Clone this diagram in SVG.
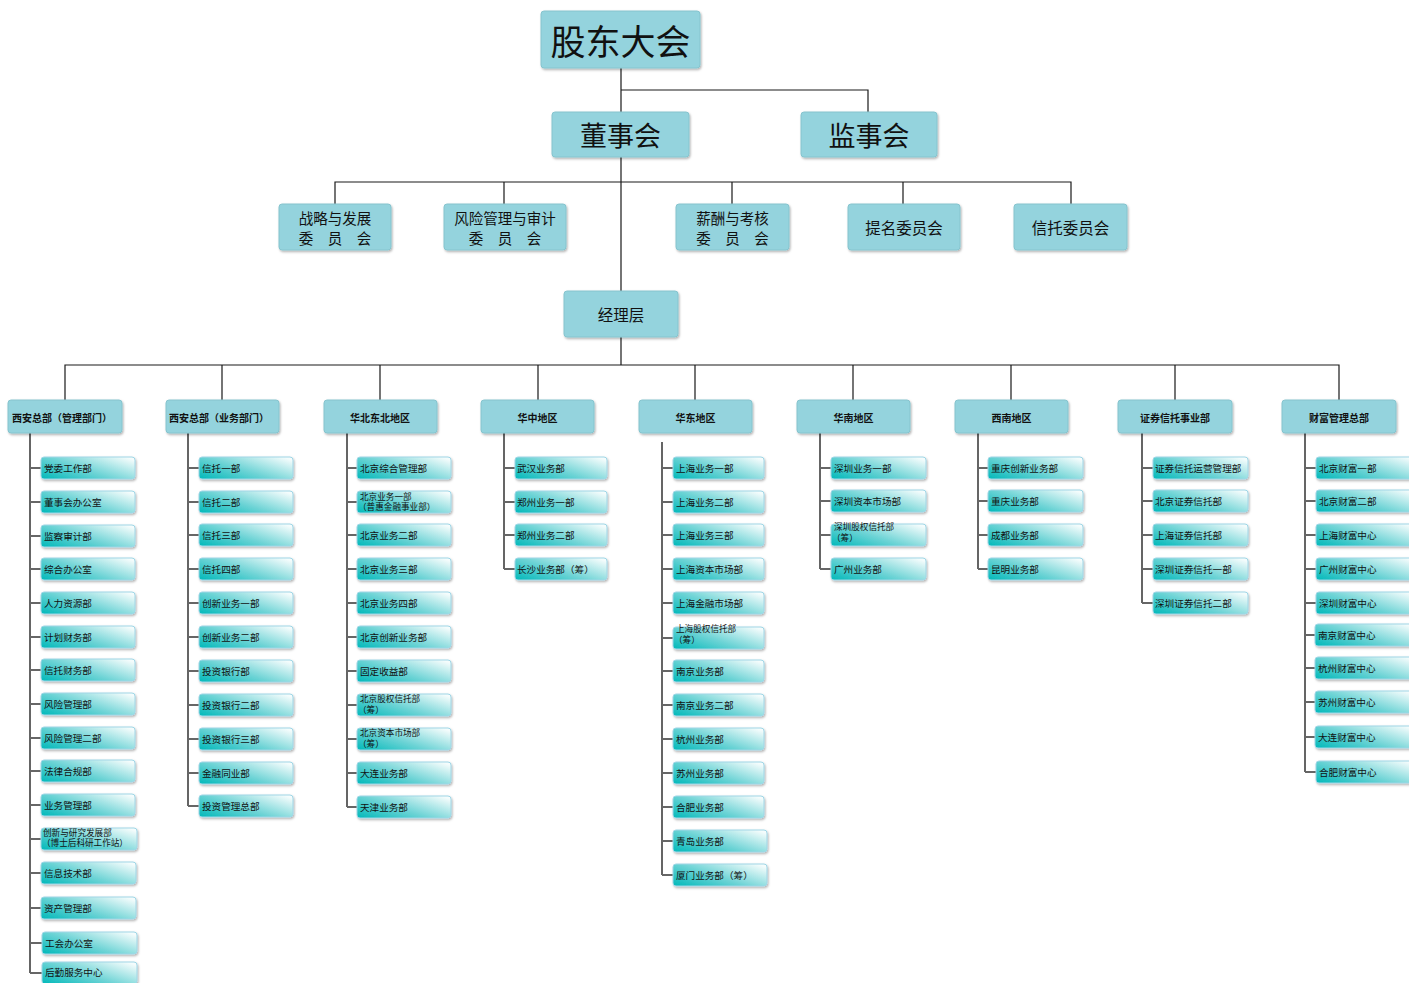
<svg xmlns="http://www.w3.org/2000/svg" width="1409" height="983" viewBox="0 0 1409 983">
<style>
text{font-family:"Noto Sans CJK SC","Noto Sans",sans-serif;fill:#111}
.box{fill:#94d3dd;stroke:#86c4ce;stroke-width:1}
.leaf{fill:url(#lg);stroke:#9fd6e6;stroke-width:1}
.lt{font-size:9.6px;dominant-baseline:central}
.lt2{font-size:8.6px}
.l3{font-size:10px;font-weight:bold;text-anchor:middle;dominant-baseline:central}
.cm{font-size:15.5px;text-anchor:middle;dominant-baseline:central}
.cm2{font-size:14.5px;text-anchor:middle;dominant-baseline:central}
.main{stroke:#1a1a1a;stroke-width:1.2;fill:none}
.spine{stroke:#333;stroke-width:1.5;fill:none}
.tick{stroke:#666;stroke-width:2;fill:none}
</style>
<defs>
<linearGradient id="lg" x1="0" y1="0.85" x2="1" y2="0.15">
<stop offset="0" stop-color="#0fbcbd"/>
<stop offset="0.45" stop-color="#6fd4d6"/>
<stop offset="1" stop-color="#f4fcfc"/>
</linearGradient>
<filter id="sh" x="-10%" y="-20%" width="125%" height="150%">
<feDropShadow dx="1" dy="1.5" stdDeviation="1" flood-color="#000" flood-opacity="0.3"/>
</filter>
</defs>
<rect width="1409" height="983" fill="#fff"/>
<g id="connectors">
<path class="main" d="M621 68V112M621 90H868V112M621 157V291M335 204V182H1071V204M504 182V204M732 182V204M903 182V204M621 337V365M65 400V365H1339V400M222 365V400M380 365V400M538 365V400M695 365V400M853 365V400M1011 365V400M1175 365V400"/>
<path class="spine" d="M30 433V973M188 433V806M347 433V807M504 433V569M662 442V875M820 433V569M978 433V569M1142 433V603M1305 433V772"/>
<path class="tick" d="M30 468H41M30 502H41M30 536H41M30 569H41M30 603H41M30 637H41M30 670H41M30 704H41M30 738H41M30 771H41M30 805H41M30 839H41M30 873H41M30 908H41M30 943H42M30 973H42
M188 468H199M188 502H199M188 535H199M188 569H199M188 603H199M188 637H199M188 671H199M188 705H199M188 739H199M188 773H199M188 806H199
M347 468H357M347 502H357M347 535H357M347 569H357M347 603H357M347 637H357M347 671H357M347 705H357M347 739H357M347 773H357M347 807H357
M504 468H515M504 502H515M504 535H515M504 569H515
M662 468H673M662 502H673M662 535H673M662 569H673M662 603H673M662 638H673M662 671H673M662 705H673M662 739H673M662 773H673M662 807H673M662 841H673M662 875H673
M820 468H831M820 501H831M820 535H831M820 569H831
M978 468H988M978 501H988M978 535H988M978 569H988
M1142 468H1153M1142 501H1153M1142 535H1153M1142 569H1153M1142 603H1153
M1305 468H1316M1305 501H1316M1305 535H1316M1305 569H1316M1305 603H1316M1305 635H1316M1305 668H1316M1305 702H1316M1305 737H1316M1305 772H1316"/>
</g>
<g id="n-gudong"><rect class="box" x="541" y="11" width="159" height="57" rx="3" filter="url(#sh)"/><text x="620.5" y="39.5" font-size="35" text-anchor="middle" dominant-baseline="central">股东大会</text></g>
<g id="n-dongshi"><rect class="box" x="552" y="112" width="137" height="45" rx="3" filter="url(#sh)"/><text x="620.5" y="134.5" font-size="27" text-anchor="middle" dominant-baseline="central">董事会</text></g>
<g id="n-jianshi"><rect class="box" x="801" y="112" width="136" height="45" rx="3" filter="url(#sh)"/><text x="869" y="134.5" font-size="27" text-anchor="middle" dominant-baseline="central">监事会</text></g>
<g id="n-c1"><rect class="box" x="279" y="204" width="112" height="46" rx="3" filter="url(#sh)"/><text class="cm2" x="335" y="217">战略与发展</text><text class="cm2" x="335" y="237">委　员　会</text></g>
<g id="n-c2"><rect class="box" x="444" y="204" width="122" height="46" rx="3" filter="url(#sh)"/><text class="cm2" x="505" y="217">风险管理与审计</text><text class="cm2" x="505" y="237">委　员　会</text></g>
<g id="n-c3"><rect class="box" x="676" y="204" width="113" height="46" rx="3" filter="url(#sh)"/><text class="cm2" x="732.5" y="217">薪酬与考核</text><text class="cm2" x="732.5" y="237">委　员　会</text></g>
<g id="n-c4"><rect class="box" x="848" y="204" width="112" height="46" rx="3" filter="url(#sh)"/><text class="cm" x="904" y="227">提名委员会</text></g>
<g id="n-c5"><rect class="box" x="1014" y="204" width="113" height="46" rx="3" filter="url(#sh)"/><text class="cm" x="1070.5" y="227">信托委员会</text></g>
<g id="n-jingli"><rect class="box" x="564" y="291" width="114" height="46" rx="3" filter="url(#sh)"/><text class="cm" x="621" y="314">经理层</text></g>
<g id="n-d1"><rect class="box" x="8" y="400" width="114" height="33" rx="3" filter="url(#sh)"/><text class="l3" x="62" y="417">西安总部（管理部门）</text></g>
<g id="n-d2"><rect class="box" x="166" y="400" width="113" height="33" rx="3" filter="url(#sh)"/><text class="l3" x="219" y="417">西安总部（业务部门）</text></g>
<g id="n-d3"><rect class="box" x="324" y="400" width="113" height="33" rx="3" filter="url(#sh)"/><text class="l3" x="380" y="417">华北东北地区</text></g>
<g id="n-d4"><rect class="box" x="481" y="400" width="113" height="33" rx="3" filter="url(#sh)"/><text class="l3" x="537.5" y="417">华中地区</text></g>
<g id="n-d5"><rect class="box" x="639" y="400" width="113" height="33" rx="3" filter="url(#sh)"/><text class="l3" x="695.5" y="417">华东地区</text></g>
<g id="n-d6"><rect class="box" x="797" y="400" width="113" height="33" rx="3" filter="url(#sh)"/><text class="l3" x="853.5" y="417">华南地区</text></g>
<g id="n-d7"><rect class="box" x="955" y="400" width="113" height="33" rx="3" filter="url(#sh)"/><text class="l3" x="1011.5" y="417">西南地区</text></g>
<g id="n-d8"><rect class="box" x="1118" y="400" width="114" height="33" rx="3" filter="url(#sh)"/><text class="l3" x="1175" y="417">证券信托事业部</text></g>
<g id="n-d9"><rect class="box" x="1282" y="400" width="114" height="33" rx="3" filter="url(#sh)"/><text class="l3" x="1339" y="417">财富管理总部</text></g>

<g id="col1">
<g id="l1-1"><rect class="leaf" x="41" y="457" width="94" height="22" rx="3" filter="url(#sh)"/><text class="lt" x="44" y="468">党委工作部</text></g>
<g id="l1-2"><rect class="leaf" x="41" y="491" width="94" height="22" rx="3" filter="url(#sh)"/><text class="lt" x="44" y="502">董事会办公室</text></g>
<g id="l1-3"><rect class="leaf" x="41" y="525" width="94" height="22" rx="3" filter="url(#sh)"/><text class="lt" x="44" y="536">监察审计部</text></g>
<g id="l1-4"><rect class="leaf" x="41" y="558" width="94" height="22" rx="3" filter="url(#sh)"/><text class="lt" x="44" y="569">综合办公室</text></g>
<g id="l1-5"><rect class="leaf" x="41" y="592" width="94" height="22" rx="3" filter="url(#sh)"/><text class="lt" x="44" y="603">人力资源部</text></g>
<g id="l1-6"><rect class="leaf" x="41" y="626" width="94" height="22" rx="3" filter="url(#sh)"/><text class="lt" x="44" y="637">计划财务部</text></g>
<g id="l1-7"><rect class="leaf" x="41" y="659" width="94" height="22" rx="3" filter="url(#sh)"/><text class="lt" x="44" y="670">信托财务部</text></g>
<g id="l1-8"><rect class="leaf" x="41" y="693" width="94" height="22" rx="3" filter="url(#sh)"/><text class="lt" x="44" y="704">风险管理部</text></g>
<g id="l1-9"><rect class="leaf" x="41" y="727" width="94" height="22" rx="3" filter="url(#sh)"/><text class="lt" x="44" y="738">风险管理二部</text></g>
<g id="l1-10"><rect class="leaf" x="41" y="760" width="94" height="22" rx="3" filter="url(#sh)"/><text class="lt" x="44" y="771">法律合规部</text></g>
<g id="l1-11"><rect class="leaf" x="41" y="794" width="94" height="22" rx="3" filter="url(#sh)"/><text class="lt" x="44" y="805">业务管理部</text></g>
<g id="l1-12"><rect class="leaf" x="41" y="828" width="96" height="22" rx="3" filter="url(#sh)"/><text class="lt2" x="43" y="836">创新与研究发展部</text><text class="lt2" x="42" y="846">（博士后科研工作站）</text></g>
<g id="l1-13"><rect class="leaf" x="41" y="862" width="95" height="22" rx="3" filter="url(#sh)"/><text class="lt" x="44" y="873">信息技术部</text></g>
<g id="l1-14"><rect class="leaf" x="41" y="897" width="95" height="22" rx="3" filter="url(#sh)"/><text class="lt" x="44" y="908">资产管理部</text></g>
<g id="l1-15"><rect class="leaf" x="42" y="932" width="95" height="22" rx="3" filter="url(#sh)"/><text class="lt" x="45" y="943">工会办公室</text></g>
<g id="l1-16"><rect class="leaf" x="42" y="962" width="95" height="22" rx="3" filter="url(#sh)"/><text class="lt" x="45" y="972">后勤服务中心</text></g>
</g>

<g id="col2">
<g id="l2-1"><rect class="leaf" x="199" y="457" width="94" height="22" rx="3" filter="url(#sh)"/><text class="lt" x="202" y="468">信托一部</text></g>
<g id="l2-2"><rect class="leaf" x="199" y="491" width="94" height="22" rx="3" filter="url(#sh)"/><text class="lt" x="202" y="502">信托二部</text></g>
<g id="l2-3"><rect class="leaf" x="199" y="524" width="94" height="22" rx="3" filter="url(#sh)"/><text class="lt" x="202" y="535">信托三部</text></g>
<g id="l2-4"><rect class="leaf" x="199" y="558" width="94" height="22" rx="3" filter="url(#sh)"/><text class="lt" x="202" y="569">信托四部</text></g>
<g id="l2-5"><rect class="leaf" x="199" y="592" width="94" height="22" rx="3" filter="url(#sh)"/><text class="lt" x="202" y="603">创新业务一部</text></g>
<g id="l2-6"><rect class="leaf" x="199" y="626" width="94" height="22" rx="3" filter="url(#sh)"/><text class="lt" x="202" y="637">创新业务二部</text></g>
<g id="l2-7"><rect class="leaf" x="199" y="660" width="94" height="22" rx="3" filter="url(#sh)"/><text class="lt" x="202" y="671">投资银行部</text></g>
<g id="l2-8"><rect class="leaf" x="199" y="694" width="94" height="22" rx="3" filter="url(#sh)"/><text class="lt" x="202" y="705">投资银行二部</text></g>
<g id="l2-9"><rect class="leaf" x="199" y="728" width="94" height="22" rx="3" filter="url(#sh)"/><text class="lt" x="202" y="739">投资银行三部</text></g>
<g id="l2-10"><rect class="leaf" x="199" y="762" width="94" height="22" rx="3" filter="url(#sh)"/><text class="lt" x="202" y="773">金融同业部</text></g>
<g id="l2-11"><rect class="leaf" x="199" y="795" width="94" height="22" rx="3" filter="url(#sh)"/><text class="lt" x="202" y="806">投资管理总部</text></g>
</g>

<g id="col3">
<g id="l3-1"><rect class="leaf" x="357" y="457" width="94" height="22" rx="3" filter="url(#sh)"/><text class="lt" x="360" y="468">北京综合管理部</text></g>
<g id="l3-2"><rect class="leaf" x="357" y="491" width="94" height="22" rx="3" filter="url(#sh)"/><text class="lt2" x="360" y="500">北京业务一部</text><text class="lt2" x="358" y="510">（普惠金融事业部）</text></g>
<g id="l3-3"><rect class="leaf" x="357" y="524" width="94" height="22" rx="3" filter="url(#sh)"/><text class="lt" x="360" y="535">北京业务二部</text></g>
<g id="l3-4"><rect class="leaf" x="357" y="558" width="94" height="22" rx="3" filter="url(#sh)"/><text class="lt" x="360" y="569">北京业务三部</text></g>
<g id="l3-5"><rect class="leaf" x="357" y="592" width="94" height="22" rx="3" filter="url(#sh)"/><text class="lt" x="360" y="603">北京业务四部</text></g>
<g id="l3-6"><rect class="leaf" x="357" y="626" width="94" height="22" rx="3" filter="url(#sh)"/><text class="lt" x="360" y="637">北京创新业务部</text></g>
<g id="l3-7"><rect class="leaf" x="357" y="660" width="94" height="22" rx="3" filter="url(#sh)"/><text class="lt" x="360" y="671">固定收益部</text></g>
<g id="l3-8"><rect class="leaf" x="357" y="694" width="94" height="22" rx="3" filter="url(#sh)"/><text class="lt2" x="360" y="702" font-size="9">北京股权信托部</text><text class="lt2" x="358" y="713" font-size="9">（筹）</text></g>
<g id="l3-9"><rect class="leaf" x="357" y="728" width="94" height="22" rx="3" filter="url(#sh)"/><text class="lt2" x="360" y="736" font-size="9">北京资本市场部</text><text class="lt2" x="358" y="747" font-size="9">（筹）</text></g>
<g id="l3-10"><rect class="leaf" x="357" y="762" width="94" height="22" rx="3" filter="url(#sh)"/><text class="lt" x="360" y="773">大连业务部</text></g>
<g id="l3-11"><rect class="leaf" x="357" y="796" width="94" height="22" rx="3" filter="url(#sh)"/><text class="lt" x="360" y="807">天津业务部</text></g>
</g>

<g id="col4">
<g id="l4-1"><rect class="leaf" x="515" y="457" width="92" height="22" rx="3" filter="url(#sh)"/><text class="lt" x="517" y="468">武汉业务部</text></g>
<g id="l4-2"><rect class="leaf" x="515" y="491" width="92" height="22" rx="3" filter="url(#sh)"/><text class="lt" x="517" y="502">郑州业务一部</text></g>
<g id="l4-3"><rect class="leaf" x="515" y="524" width="92" height="22" rx="3" filter="url(#sh)"/><text class="lt" x="517" y="535">郑州业务二部</text></g>
<g id="l4-4"><rect class="leaf" x="515" y="558" width="92" height="22" rx="3" filter="url(#sh)"/><text class="lt" x="517" y="569">长沙业务部（筹）</text></g>
</g>

<g id="col5">
<g id="l5-1"><rect class="leaf" x="673" y="457" width="91" height="22" rx="3" filter="url(#sh)"/><text class="lt" x="676" y="468">上海业务一部</text></g>
<g id="l5-2"><rect class="leaf" x="673" y="491" width="91" height="22" rx="3" filter="url(#sh)"/><text class="lt" x="676" y="502">上海业务二部</text></g>
<g id="l5-3"><rect class="leaf" x="673" y="524" width="91" height="22" rx="3" filter="url(#sh)"/><text class="lt" x="676" y="535">上海业务三部</text></g>
<g id="l5-4"><rect class="leaf" x="673" y="558" width="91" height="22" rx="3" filter="url(#sh)"/><text class="lt" x="676" y="569">上海资本市场部</text></g>
<g id="l5-5"><rect class="leaf" x="673" y="592" width="91" height="22" rx="3" filter="url(#sh)"/><text class="lt" x="676" y="603">上海金融市场部</text></g>
<g id="l5-6"><rect class="leaf" x="673" y="627" width="91" height="22" rx="3" filter="url(#sh)"/><text class="lt2" x="676" y="632" font-size="9">上海股权信托部</text><text class="lt2" x="674" y="643" font-size="9">（筹）</text></g>
<g id="l5-7"><rect class="leaf" x="673" y="660" width="91" height="22" rx="3" filter="url(#sh)"/><text class="lt" x="676" y="671">南京业务部</text></g>
<g id="l5-8"><rect class="leaf" x="673" y="694" width="91" height="22" rx="3" filter="url(#sh)"/><text class="lt" x="676" y="705">南京业务二部</text></g>
<g id="l5-9"><rect class="leaf" x="673" y="728" width="91" height="22" rx="3" filter="url(#sh)"/><text class="lt" x="676" y="739">杭州业务部</text></g>
<g id="l5-10"><rect class="leaf" x="673" y="762" width="91" height="22" rx="3" filter="url(#sh)"/><text class="lt" x="676" y="773">苏州业务部</text></g>
<g id="l5-11"><rect class="leaf" x="673" y="796" width="91" height="22" rx="3" filter="url(#sh)"/><text class="lt" x="676" y="807">合肥业务部</text></g>
<g id="l5-12"><rect class="leaf" x="673" y="830" width="94" height="22" rx="3" filter="url(#sh)"/><text class="lt" x="676" y="841">青岛业务部</text></g>
<g id="l5-13"><rect class="leaf" x="673" y="864" width="94" height="22" rx="3" filter="url(#sh)"/><text class="lt" x="676" y="875">厦门业务部（筹）</text></g>
</g>

<g id="col6">
<g id="l6-1"><rect class="leaf" x="831" y="457" width="95" height="22" rx="3" filter="url(#sh)"/><text class="lt" x="834" y="468">深圳业务一部</text></g>
<g id="l6-2"><rect class="leaf" x="831" y="490" width="95" height="22" rx="3" filter="url(#sh)"/><text class="lt" x="834" y="501">深圳资本市场部</text></g>
<g id="l6-3"><rect class="leaf" x="831" y="524" width="95" height="22" rx="3" filter="url(#sh)"/><text class="lt2" x="834" y="530" font-size="9">深圳股权信托部</text><text class="lt2" x="832" y="541" font-size="9">（筹）</text></g>
<g id="l6-4"><rect class="leaf" x="831" y="558" width="95" height="22" rx="3" filter="url(#sh)"/><text class="lt" x="834" y="569">广州业务部</text></g>
</g>

<g id="col7">
<g id="l7-1"><rect class="leaf" x="988" y="457" width="95" height="22" rx="3" filter="url(#sh)"/><text class="lt" x="991" y="468">重庆创新业务部</text></g>
<g id="l7-2"><rect class="leaf" x="988" y="490" width="95" height="22" rx="3" filter="url(#sh)"/><text class="lt" x="991" y="501">重庆业务部</text></g>
<g id="l7-3"><rect class="leaf" x="988" y="524" width="95" height="22" rx="3" filter="url(#sh)"/><text class="lt" x="991" y="535">成都业务部</text></g>
<g id="l7-4"><rect class="leaf" x="988" y="558" width="95" height="22" rx="3" filter="url(#sh)"/><text class="lt" x="991" y="569">昆明业务部</text></g>
</g>

<g id="col8">
<g id="l8-1"><rect class="leaf" x="1153" y="457" width="95" height="22" rx="3" filter="url(#sh)"/><text class="lt" x="1155" y="468">证券信托运营管理部</text></g>
<g id="l8-2"><rect class="leaf" x="1153" y="490" width="95" height="22" rx="3" filter="url(#sh)"/><text class="lt" x="1155" y="501">北京证券信托部</text></g>
<g id="l8-3"><rect class="leaf" x="1153" y="524" width="95" height="22" rx="3" filter="url(#sh)"/><text class="lt" x="1155" y="535">上海证券信托部</text></g>
<g id="l8-4"><rect class="leaf" x="1153" y="558" width="95" height="22" rx="3" filter="url(#sh)"/><text class="lt" x="1155" y="569">深圳证券信托一部</text></g>
<g id="l8-5"><rect class="leaf" x="1153" y="592" width="95" height="22" rx="3" filter="url(#sh)"/><text class="lt" x="1155" y="603">深圳证券信托二部</text></g>
</g>

<g id="col9">
<g id="l9-1"><rect class="leaf" x="1316" y="457" width="100" height="22" rx="3" filter="url(#sh)"/><text class="lt" x="1319" y="468">北京财富一部</text></g>
<g id="l9-2"><rect class="leaf" x="1316" y="490" width="100" height="22" rx="3" filter="url(#sh)"/><text class="lt" x="1319" y="501">北京财富二部</text></g>
<g id="l9-3"><rect class="leaf" x="1316" y="524" width="100" height="22" rx="3" filter="url(#sh)"/><text class="lt" x="1319" y="535">上海财富中心</text></g>
<g id="l9-4"><rect class="leaf" x="1316" y="558" width="100" height="22" rx="3" filter="url(#sh)"/><text class="lt" x="1319" y="569">广州财富中心</text></g>
<g id="l9-5"><rect class="leaf" x="1316" y="592" width="100" height="22" rx="3" filter="url(#sh)"/><text class="lt" x="1319" y="603">深圳财富中心</text></g>
<g id="l9-6"><rect class="leaf" x="1315" y="624" width="100" height="22" rx="3" filter="url(#sh)"/><text class="lt" x="1318" y="635">南京财富中心</text></g>
<g id="l9-7"><rect class="leaf" x="1315" y="657" width="100" height="22" rx="3" filter="url(#sh)"/><text class="lt" x="1318" y="668">杭州财富中心</text></g>
<g id="l9-8"><rect class="leaf" x="1315" y="691" width="100" height="22" rx="3" filter="url(#sh)"/><text class="lt" x="1318" y="702">苏州财富中心</text></g>
<g id="l9-9"><rect class="leaf" x="1315" y="726" width="100" height="22" rx="3" filter="url(#sh)"/><text class="lt" x="1318" y="737">大连财富中心</text></g>
<g id="l9-10"><rect class="leaf" x="1316" y="761" width="100" height="22" rx="3" filter="url(#sh)"/><text class="lt" x="1319" y="772">合肥财富中心</text></g>
</g>
</svg>
